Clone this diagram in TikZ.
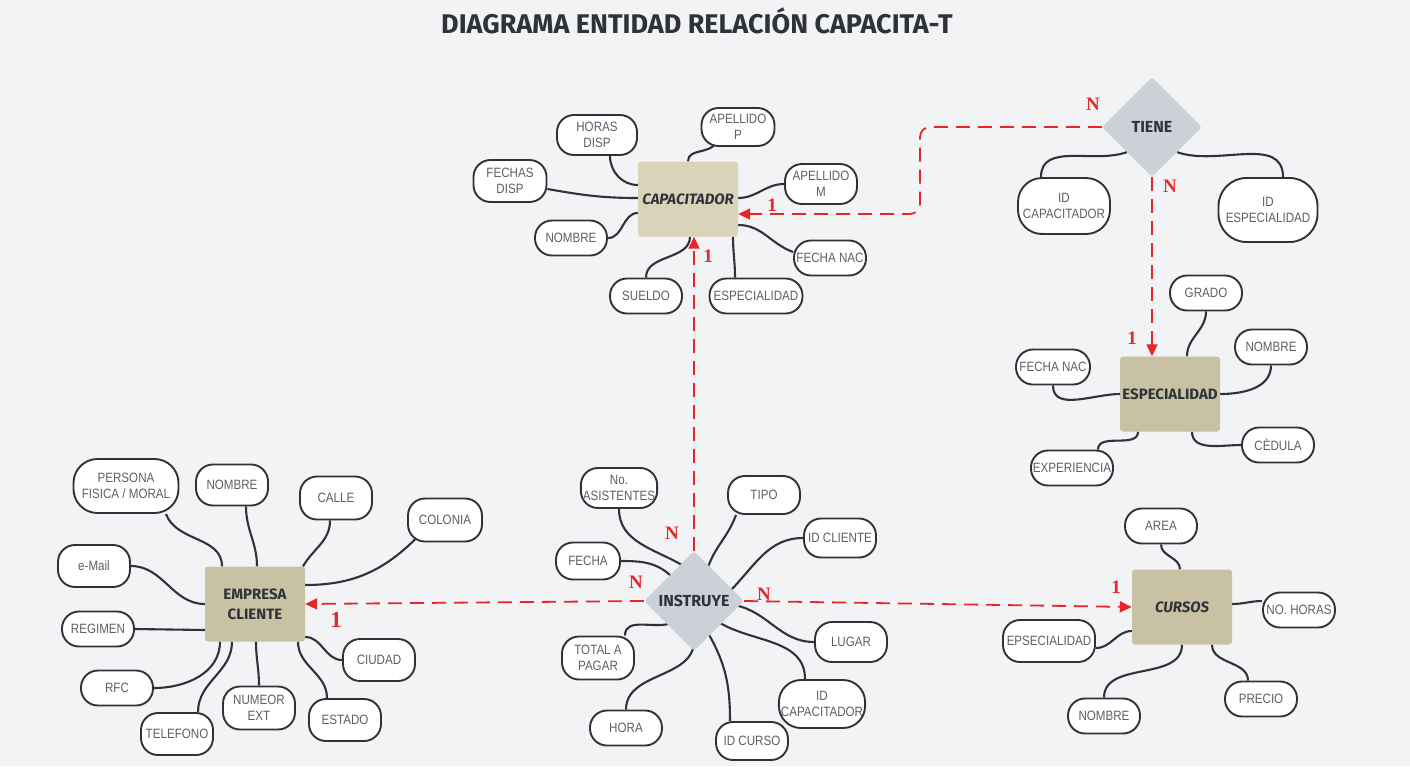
\documentclass[tikz,border=0pt]{standalone}
\usepackage{fontspec}
\setmainfont{Liberation Sans}[FakeStretch=0.86]
\newfontfamily\titfont{Fira Sans}
\newfontfamily\entfont{Fira Sans}
\newfontfamily\numfont{Liberation Serif}
\usetikzlibrary{arrows.meta, calc, positioning, shapes.geometric}
\definecolor{fondo}{HTML}{F2F3F5}
\definecolor{entc}{HTML}{C9C1A3}
\definecolor{entl}{HTML}{D9D3BA}
\definecolor{relc}{HTML}{CCD1D9}
\definecolor{lin}{HTML}{2F3339}
\definecolor{txt}{HTML}{5B6067}
\definecolor{rojo}{HTML}{E5262A}
\pgfdeclarelayer{capafondo}
\pgfdeclarelayer{capalineas}
\pgfsetlayers{capafondo,capalineas,main}

\begin{document}
\begin{tikzpicture}[x=1pt, y=1pt]
            \tikzstyle{attr}=[draw = lin, line width = 1.9pt, fill = white, rounded corners = 17pt,
                minimum width = 72pt, minimum height = 35pt, inner sep = 2pt, align = center,
                text = txt, font = \fontsize{13.5}{16}\selectfont]
            \tikzstyle{ent}=[fill = entc, rounded corners = 3pt, minimum width = 100pt, minimum height = 75pt,
                inner sep = 1pt, align = center, text = lin, font = \entfont\bfseries\fontsize{15}{20}\selectfont]
            \tikzstyle{rel}=[diamond, fill = relc, rounded corners = 3pt, minimum width = 100pt,
                minimum height = 100pt, inner sep = 0pt, text = lin, font = \entfont\bfseries\fontsize{16}{16}\selectfont]
            \tikzstyle{link}=[draw = lin, line width = 2.1pt]
            \tikzstyle{card}=[draw = rojo, line width = 1.8pt, dash pattern = on 14pt off 8pt,
                -{Triangle[length = 12pt, width = 11pt]}]
            \tikzstyle{num}=[text = rojo, font = \numfont\bfseries\fontsize{19}{19}\selectfont]
            \begin{pgfonlayer}{capafondo}
                \fill[fondo] (0,0) rectangle (1410,-766);
            \end{pgfonlayer}
            \useasboundingbox (0,0) rectangle (1410,-766);
            \node[text = lin, font = \titfont\bfseries\fontsize{27}{27}\selectfont] (tit) at (697,-21) {DIAGRAMA ENTIDAD RELACIÓN CAPACITA-T};
            % entidades y relaciones
            \node[ent, fill = entl] (cap) at (688,-199) {\itshape CAPACITADOR};
            \node[ent] (esp) at (1170,-394) {ESPECIALIDAD};
            \node[ent] (emp) at (255,-604) {EMPRESA\\CLIENTE};
            \node[ent] (cur) at (1182,-607) {\itshape CURSOS};
            \node[rel] (tie) at (1152,-127) {TIENE};
            \node[rel] (ins) at (694,-601) {INSTRUYE};
            % capacitador
            \node[attr, minimum width = 80pt, minimum height = 40pt] (c1) at (597,-135) {HORAS\\DISP};
            \node[attr, minimum width = 73pt, minimum height = 38pt] (c2) at (738,-127) {APELLIDO\\P};
            \node[attr, minimum width = 73pt, minimum height = 42pt] (c3) at (510,-181) {FECHAS\\DISP};
            \node[attr, minimum height = 40pt] (c4) at (821,-184) {APELLIDO\\M};
            \node[attr] (c5) at (571,-238) {NOMBRE};
            \node[attr] (c6) at (830,-258) {FECHA NAC};
            \node[attr] (c7) at (646,-296) {SUELDO};
            \node[attr, minimum width = 93pt] (c8) at (756,-296) {ESPECIALIDAD};
            % tiene
            \node[attr, minimum width = 92pt, minimum height = 56pt, rounded corners = 24pt] (t1) at (1064,-206) {ID\\CAPACITADOR};
            \node[attr, minimum width = 99pt, minimum height = 64pt, rounded corners = 28pt] (t2) at (1268,-210) {ID\\ESPECIALIDAD};
            % especialidad
            \node[attr] (e1) at (1206,-293) {GRADO};
            \node[attr] (e2) at (1271,-347) {NOMBRE};
            \node[attr, minimum width = 74pt] (e3) at (1053,-367) {FECHA NAC};
            \node[attr] (e4) at (1072,-468) {EXPERIENCIA};
            \node[attr] (e5) at (1278,-445) {CÈDULA};
            % empresa cliente
            \node[attr, minimum width = 105pt, minimum height = 54pt, rounded corners = 24pt] (m1) at (126,-486) {PERSONA\\FISICA / MORAL};
            \node[attr, minimum height = 41pt] (m2) at (232,-485) {NOMBRE};
            \node[attr, minimum height = 43pt] (m3) at (336,-498) {CALLE};
            \node[attr, minimum width = 74pt, minimum height = 43pt] (m4) at (445,-520) {COLONIA};
            \node[attr, minimum height = 42pt] (m5) at (94,-566) {e-Mail};
            \node[attr] (m6) at (98,-629) {REGIMEN};
            \node[attr] (m7) at (117,-688) {RFC};
            \node[attr, minimum height = 42pt] (m8) at (177,-734) {TELEFONO};
            \node[attr, minimum height = 43pt] (m9) at (259,-708) {NUMEOR\\EXT};
            \node[attr, minimum height = 42pt] (m10) at (379,-660) {CIUDAD};
            \node[attr, minimum height = 42pt] (m11) at (345,-720) {ESTADO};
            % instruye
            \node[attr, minimum height = 40pt] (i1) at (619,-488) {No.\\ASISTENTES};
            \node[attr, minimum height = 38pt] (i2) at (764,-495) {TIPO};
            \node[attr, minimum width = 64pt, minimum height = 37pt] (i3) at (588,-561) {FECHA};
            \node[attr, minimum height = 39pt] (i4) at (840,-538) {ID CLIENTE};
            \node[attr, minimum height = 43pt] (i5) at (598,-658) {TOTAL A\\PAGAR};
            \node[attr, minimum height = 40pt] (i6) at (851,-642) {LUGAR};
            \node[attr] (i7) at (626,-728) {HORA};
            \node[attr, minimum height = 38pt] (i8) at (752,-741) {ID CURSO};
            \node[attr, minimum width = 84pt, minimum height = 48pt, rounded corners = 22pt] (i9) at (822,-704) {ID\\CAPACITADOR};
            % cursos
            \node[attr] (u1) at (1161,-526) {AREA};
            \node[attr] (u2) at (1299,-610) {NO. HORAS};
            \node[attr, minimum width = 92pt, minimum height = 42pt] (u3) at (1049,-641) {EPSECIALIDAD};
            \node[attr] (u4) at (1104,-716) {NOMBRE};
            \node[attr] (u5) at (1261,-699) {PRECIO};
            \begin{pgfonlayer}{capalineas}
                \draw[link] ([xshift = 13]c1.south) to[out = -90, in = 180] ([yshift = 14]cap.west);
                \draw[link] (cap.north) to[out = 90, in = -120] ([xshift = -22, yshift = 4]c2.south);
                \draw[link] ([yshift = -8]c3.east) to[out = -10, in = 180] ([yshift = 1]cap.west);
                \draw[link] ([yshift = 1]cap.east) to[out = 0, in = 180] (c4.west);
                \draw[link] (c5.east) to[out = 0, in = 180] ([yshift = -14]cap.west);
                \draw[link] ([yshift = -26]cap.east) to[out = 0, in = 160] ([yshift = 6]c6.west);
                \draw[link] (c7.north) to[out = 90, in = -90] ([xshift = 2]cap.south);
                \draw[link] ([xshift = 45]cap.south) to[out = -90, in = 90] ([xshift = -21]c8.north);
                \draw[link] (tie.south west) to[out = -160, in = 90] ([xshift = -23]t1.north);
                \draw[link] (tie.south east) to[out = -20, in = 90] ([xshift = 15]t2.north);
                \draw[link] (e1.south) to[out = -90, in = 90] ([xshift = 17]esp.north);
                \draw[link] (e2.south) to[out = -90, in = 0] (esp.east);
                \draw[link] (e3.south) to[out = -90, in = 180] (esp.west);
                \draw[link] ([xshift = 26]e4.north) to[out = 90, in = -90] ([xshift = -32]esp.south);
                \draw[link] ([xshift = 22]esp.south) to[out = -90, in = 180] (e5.west);
                \draw[link] ([xshift = 40]m1.south) to[out = -70, in = 90] ([xshift = -33]emp.north);
                \draw[link] ([xshift = 14]m2.south) to[out = -90, in = 90] ([xshift = 2]emp.north);
                \draw[link] ([xshift = -6]m3.south) to[out = -90, in = 60] ([xshift = 48]emp.north);
                \draw[link] ([xshift = -28, yshift = 5]m4.south) to[out = -135, in = 0] ([yshift = 19]emp.east);
                \draw[link] (m5.east) to[out = 0, in = 180] (emp.west);
                \draw[link] (m6.east) -- ([yshift = -26]emp.west);
                \draw[link] (m7.east) to[out = 0, in = -90] ([xshift = -35]emp.south);
                \draw[link] ([xshift = 21]m8.north) to[out = 90, in = -90] ([xshift = -23]emp.south);
                \draw[link] (m9.north) to[out = 90, in = -90] ([xshift = 1]emp.south);
                \draw[link] (m10.west) to[out = 180, in = 0] ([yshift = -33]emp.east);
                \draw[link] ([xshift = -18]m11.north) to[out = 90, in = -90] ([xshift = 43]emp.south);
                \draw[link] (i1.south) to[out = -90, in = 150] ($(ins) + (-12,36)$);
                \draw[link] ([xshift = -28]i2.south) to[out = -110, in = 70] ($(ins) + (14,34)$);
                \draw[link] (i3.east) to[out = 0, in = 135] ($(ins) + (-22,24)$);
                \draw[link] (i4.west) to[out = 180, in = 45] ($(ins) + (36,10)$);
                \draw[link] ([xshift = 27]i5.north) to[out = 90, in = -160] ($(ins) + (-22,-22)$);
                \draw[link] (i6.west) to[out = 180, in = -10] ($(ins) + (40,-4)$);
                \draw[link] (i7.north) to[out = 90, in = -90] ($(ins) + (0,-40)$);
                \draw[link] ([xshift = -22]i8.north) to[out = 90, in = -60] ($(ins) + (14,-32)$);
                \draw[link] ([xshift = -17]i9.north) to[out = 90, in = -30] ($(ins) + (26,-22)$);
                \draw[link] (u1.south) to[out = -90, in = 90] ([xshift = -2]cur.north);
                \draw[link] ([yshift = 3]cur.east) to[out = 0, in = 180] ([yshift = 9]u2.west);
                \draw[link] ([yshift = -7]u3.east) to[out = 0, in = 180] ([yshift = -24]cur.west);
                \draw[link] (u4.north) to[out = 90, in = -90] (cur.south);
                \draw[link] ([xshift = -13]u5.north) to[out = 90, in = -90] ([xshift = 30]cur.south);
            \end{pgfonlayer}
            % cardinalidades
            \coordinate (codo) at (920,-170);
            \draw[card, rounded corners = 10pt] (tie.west) -| (codo) |- ([yshift = -15]cap.east);
            \draw[card] (tie.south) -- ([xshift = -18]esp.north);
            \draw[card] (ins.north) -- ([xshift = 6]cap.south);
            \draw[card] (ins.west) -- (emp.east);
            \draw[card] (ins.east) -- (cur.west);
            \node[num] (n1) at (1093,-104) {N};
            \node[num] (n2) at (772,-205) {1};
            \node[num] (n3) at (1170,-186) {N};
            \node[num] (n4) at (1132,-338) {1};
            \node[num] (n5) at (672,-533) {N};
            \node[num] (n6) at (708,-256) {1};
            \node[num] (n7) at (636,-582) {N};
            \node[num, font = \numfont\bfseries\fontsize{23}{23}\selectfont] (n8) at (336,-620) {1};
            \node[num] (n9) at (764,-594) {N};
            \node[num] (n10) at (1116,-587) {1};
        \end{tikzpicture}
\end{document}
